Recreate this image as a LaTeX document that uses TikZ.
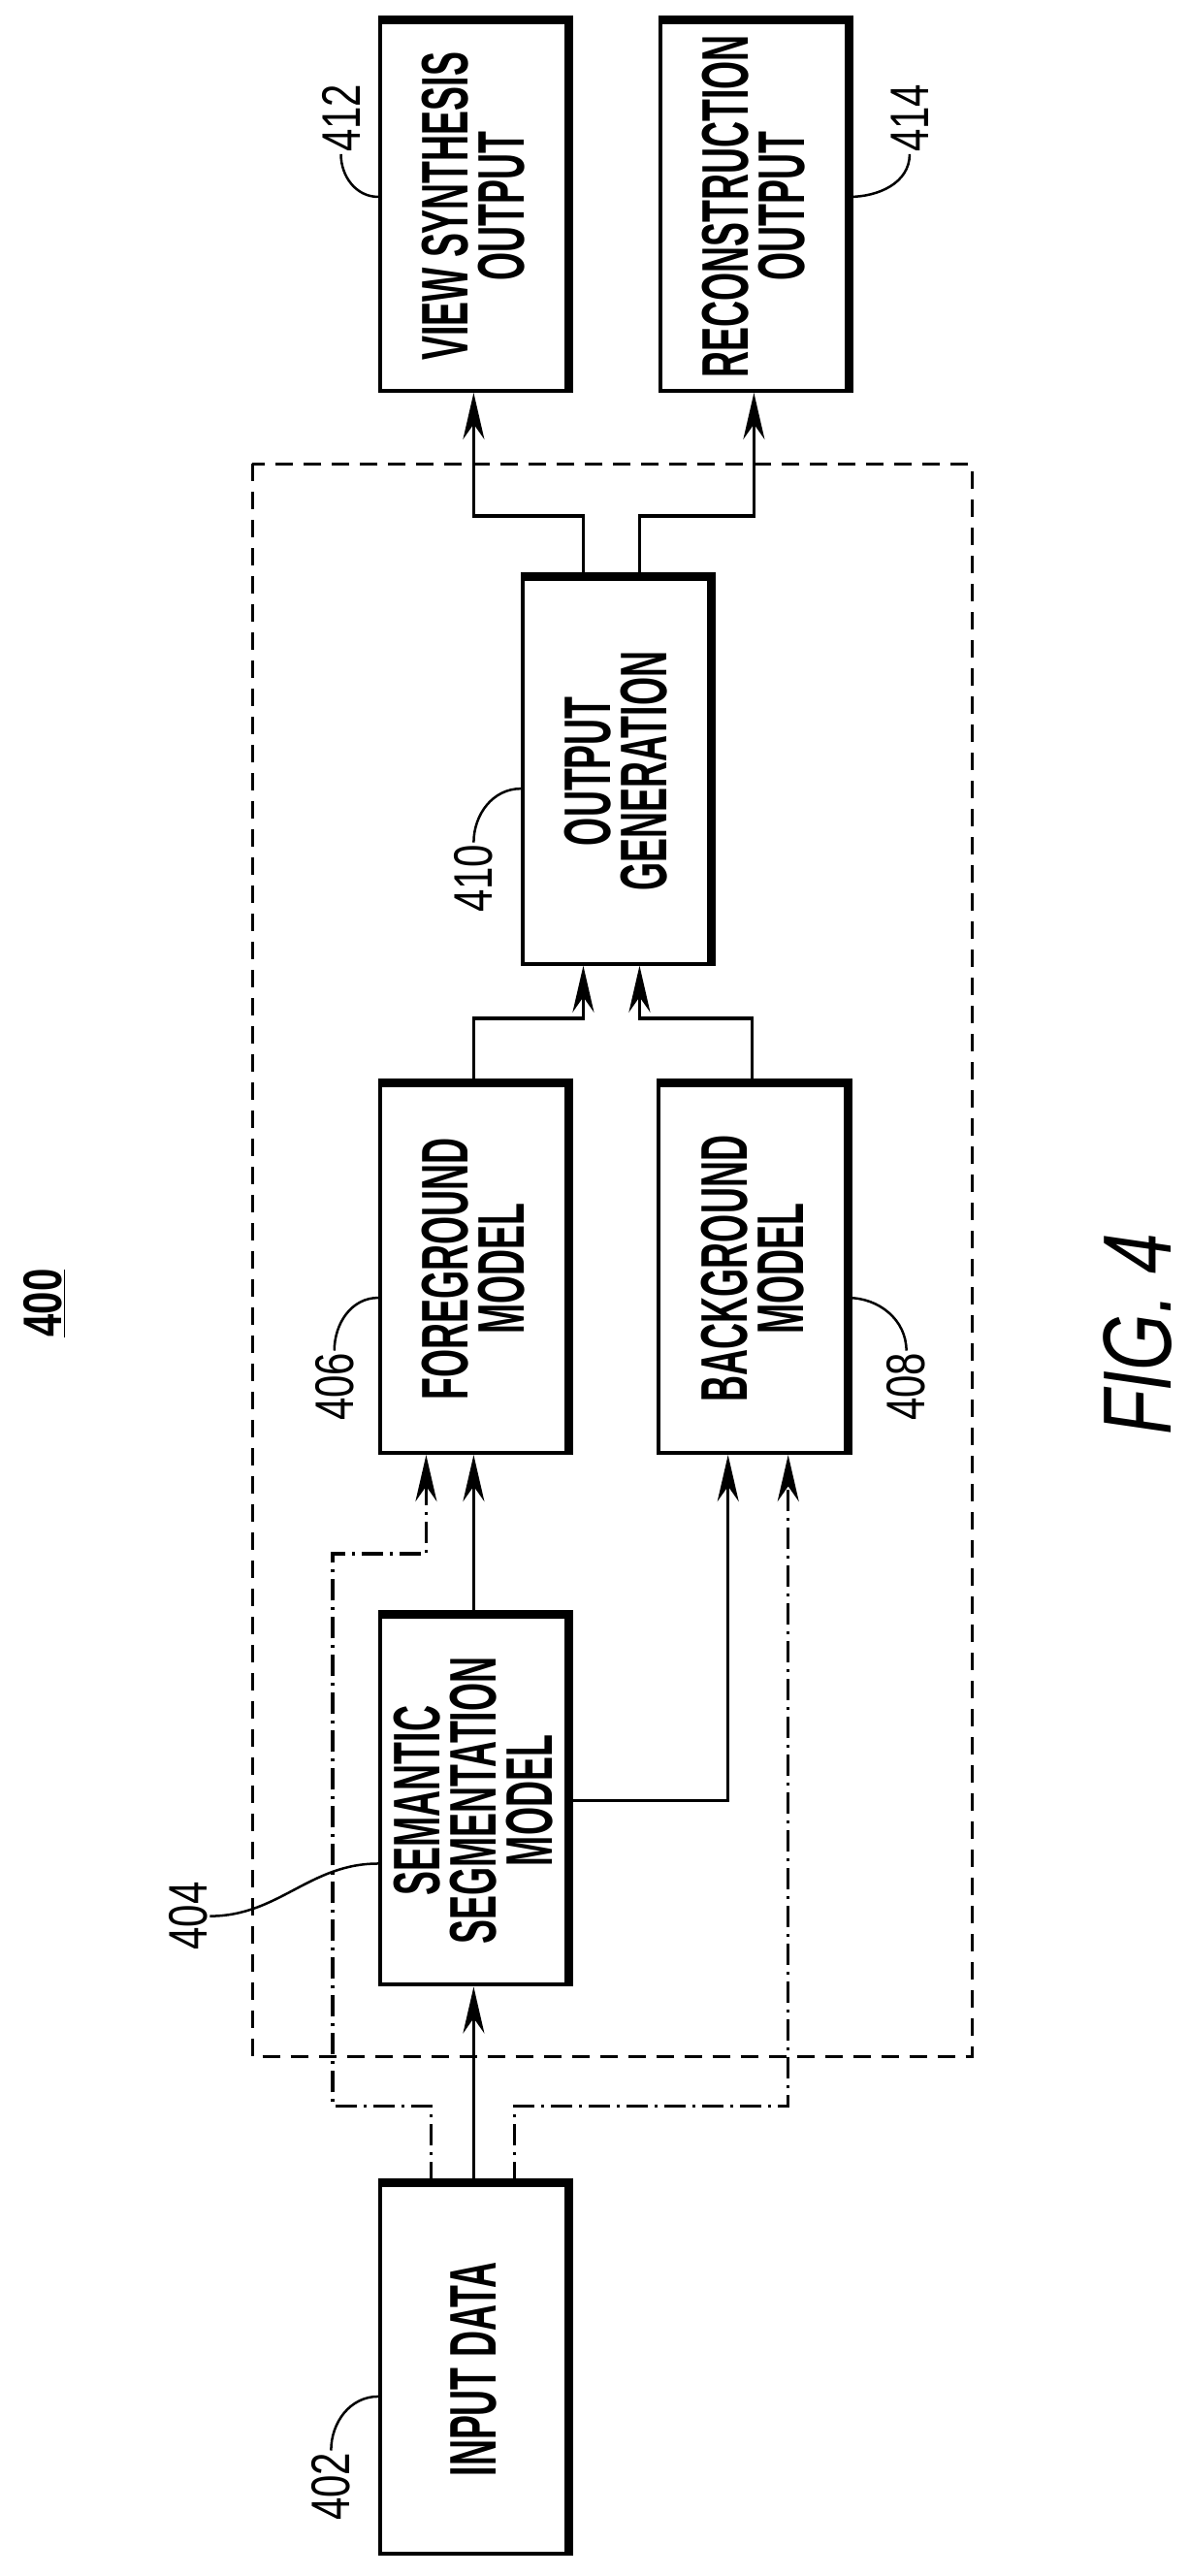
\documentclass[tikz,border=0pt]{standalone}
\usepackage{fontspec}
\setmainfont{Liberation Sans}
\newfontfamily\boxfont{Liberation Sans}[FakeStretch=0.55]
\newfontfamily\labfont{Liberation Sans}[FakeStretch=0.75]
\usetikzlibrary{arrows.meta}

\begin{document}
\begin{tikzpicture}[x=1.69pt, y=-1.69pt,
        block/.style={draw, line width=4pt, rotate=90, minimum width=380pt, minimum height=193pt,
            inner sep=0pt, align=center, font=\boxfont\bfseries\fontsize{68}{58}\selectfont},
        heavy/.style={line width=9pt},
        ref/.style={rotate=90, inner sep=2pt, font=\labfont\fontsize{56}{60}\selectfont},
        lead/.style={line width=2.5pt},
        line/.style={line width=3.5pt},
        arrow/.style={line, -{Stealth[length=48pt, width=22pt]}},
        dashdot/.style={dash pattern=on 22pt off 7pt on 3pt off 7pt},
        frame/.style={line width=3pt, dash pattern=on 18pt off 11pt}
    ]
        \useasboundingbox (0,0) rectangle (725.44,1571.6);

        % Blocks
        \node[block, minimum width=380pt] (in) at (289,1445.5) {INPUT DATA};
        \node[block] (ss) at (289,1098.5) {SEMANTIC\\SEGMENTATION\\MODEL};
        \node[block] (fg) at (289,774) {FOREGROUND\\MODEL};
        \node[block] (bg) at (459,774) {BACKGROUND\\MODEL};
        \node[block, minimum width=397pt] (og) at (376,470.5) {OUTPUT\\GENERATION};
        \node[block] (vs) at (289,126) {VIEW SYNTHESIS\\OUTPUT};
        \node[block] (rc) at (460,126) {RECONSTRUCTION\\OUTPUT};
        \foreach \n in {in,ss,fg,bg,og,vs,rc}
            \draw[heavy] (\n.north east) -- (\n.south east) -- (\n.south west);

        % Frame
        \draw[frame] (154,283) rectangle (593,1255);

        % Connectors
        \draw[arrow] (in.east) -- (ss.west);
        \draw[arrow] (ss.east) -- (fg.west);
        \draw[arrow] (ss.south) -| ([xshift=-25pt]bg.west);
        \draw[arrow, dashdot] ([xshift=-44pt]in.east) -- ++(0,-47) -| (203,948) -| ([xshift=-49pt]fg.west);
        \draw[arrow, dashdot] ([xshift=42pt]in.east) -- ++(0,-47) -| ([xshift=37pt]bg.west);
        \draw[arrow] (fg.east) -- ++(0,-39) -| ([xshift=-34pt]og.west);
        \draw[arrow] (bg.east) -- ++(0,-39) -| ([xshift=24pt]og.west);
        \draw[arrow] ([xshift=-34pt]og.east) -- ++(0,-37) -| (vs.west);
        \draw[arrow] ([xshift=24pt]og.east) -- ++(0,-37) -| (rc.west);

        % Reference numerals
        \node[ref] (l402) at (202,1517) {402};
        \node[ref] (l404) at (115,1169) {404};
        \node[ref] (l406) at (204,846) {406};
        \node[ref] (l408) at (553,846) {408};
        \node[ref] (l410) at (289,536) {410};
        \node[ref] (l412) at (208,72) {412};
        \node[ref] (l414) at (555,72) {414};
        \draw[lead] (l402.east) to[out=90, in=180] ([yshift=-28pt]in.north);
        \draw[lead] (l404.south) to[out=0, in=180] ([yshift=-65pt]ss.north);
        \draw[lead] (l406.east) to[out=90, in=180] ([yshift=-30pt]fg.north);
        \draw[lead] (l408.east) to[out=90, in=0] ([yshift=-30pt]bg.south);
        \draw[lead] (l410.east) to[out=90, in=180] ([yshift=-18pt]og.north);
        \draw[lead] (l412.west) to[out=-90, in=180] ([yshift=10pt]vs.north);
        \draw[lead] (l414.west) to[out=-90, in=0] ([yshift=10pt]rc.south);

        \node[ref, font=\labfont\bfseries\fontsize{56}{60}\selectfont] (fig) at (27,795) {\underline{400}};
        \node[rotate=90, font=\labfont\itshape\fontsize{100}{110}\selectfont] (cap) at (694,814) {FIG. 4};
    \end{tikzpicture}
\end{document}
